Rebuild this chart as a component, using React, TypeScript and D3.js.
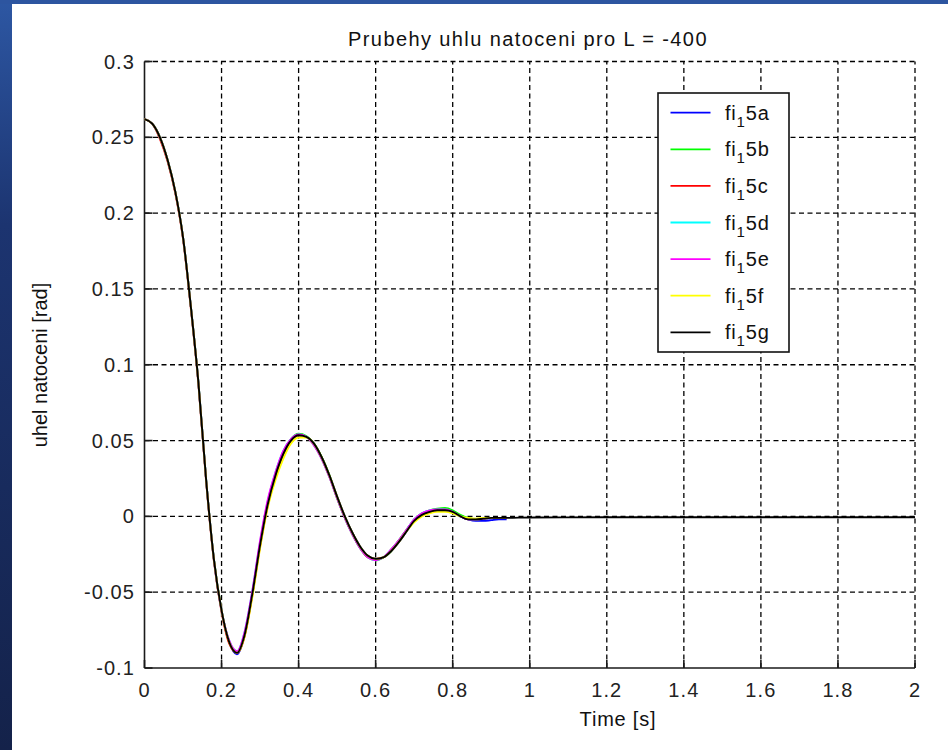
import React from "react";
import * as d3 from "d3";

const TITLE = "Prubehy uhlu natoceni pro L = -400";
const X_LABEL = "Time [s]";
const Y_LABEL = "uhel natoceni [rad]";
const X_TICKS = [0, 0.2, 0.4, 0.6, 0.8, 1, 1.2, 1.4, 1.6, 1.8, 2];
const Y_TICKS = [-0.1, -0.05, 0, 0.05, 0.1, 0.15, 0.2, 0.25, 0.3];
const X_TICK_LABELS = ["0", "0.2", "0.4", "0.6", "0.8", "1", "1.2", "1.4", "1.6", "1.8", "2"];
const Y_TICK_LABELS = ["-0.1", "-0.05", "0", "0.05", "0.1", "0.15", "0.2", "0.25", "0.3"];

const SERIES_NAMES = ["5a", "5b", "5c", "5d", "5e", "5f", "5g"];
const SERIES_COLORS = ["#0000ff", "#00ff00", "#ff0000", "#00ffff", "#ff00ff", "#ffff00", "#000000"];

const T = [0, 0.02, 0.04, 0.06, 0.08, 0.1, 0.12, 0.14, 0.16, 0.18, 0.2, 0.22, 0.24, 0.26, 0.28, 0.3, 0.32, 0.34, 0.36, 0.38, 0.4, 0.42, 0.44, 0.46, 0.48, 0.5, 0.52, 0.54, 0.56, 0.58, 0.6, 0.62, 0.64, 0.66, 0.68, 0.7, 0.72, 0.74, 0.76, 0.78, 0.8, 0.82, 0.84, 0.86, 0.88, 0.9, 0.92, 0.94];
const T_G = [0, 0.02, 0.04, 0.06, 0.08, 0.1, 0.12, 0.14, 0.16, 0.18, 0.2, 0.22, 0.24, 0.26, 0.28, 0.3, 0.32, 0.34, 0.36, 0.38, 0.4, 0.42, 0.44, 0.46, 0.48, 0.5, 0.52, 0.54, 0.56, 0.58, 0.6, 0.62, 0.64, 0.66, 0.68, 0.7, 0.72, 0.74, 0.76, 0.78, 0.8, 0.82, 0.84, 0.86, 0.88, 0.9, 0.92, 0.94, 1.0, 1.2, 1.4, 1.6, 1.8, 2.0];

const FI_5A = [0.262, 0.259, 0.25, 0.235, 0.214, 0.184, 0.139, 0.088, 0.024, -0.028, -0.062, -0.083, -0.091, -0.078, -0.051, -0.019, 0.008, 0.027, 0.041, 0.05, 0.0535, 0.0525, 0.048, 0.039, 0.027, 0.013, 0.0, -0.011, -0.02, -0.026, -0.028, -0.027, -0.023, -0.017, -0.01, -0.003, 0.001, 0.003, 0.004, 0.0045, 0.003, 0.0, -0.002, -0.003, -0.003, -0.0025, -0.002, -0.002];
const FI_5B = [0.262, 0.259, 0.25, 0.235, 0.214, 0.184, 0.139, 0.088, 0.024, -0.028, -0.062, -0.083, -0.0895, -0.078, -0.051, -0.018, 0.009, 0.028, 0.042, 0.051, 0.0545, 0.053, 0.048, 0.039, 0.027, 0.012, -0.001, -0.012, -0.021, -0.027, -0.029, -0.027, -0.023, -0.016, -0.009, -0.002, 0.002, 0.004, 0.005, 0.0055, 0.004, 0.001, -0.001, -0.002, -0.0015, -0.001, -0.001, -0.001];
const FI_5C = [0.262, 0.259, 0.249, 0.234, 0.213, 0.183, 0.138, 0.087, 0.023, -0.029, -0.063, -0.084, -0.09, -0.079, -0.052, -0.02, 0.007, 0.026, 0.041, 0.05, 0.0535, 0.0525, 0.047, 0.038, 0.026, 0.012, -0.001, -0.012, -0.021, -0.027, -0.028, -0.027, -0.022, -0.016, -0.009, -0.003, 0.001, 0.003, 0.004, 0.004, 0.003, 0.0, -0.002, -0.002, -0.0015, -0.001, -0.001, -0.001];
const FI_5D = [0.262, 0.259, 0.25, 0.235, 0.214, 0.184, 0.139, 0.088, 0.024, -0.028, -0.062, -0.082, -0.089, -0.076, -0.049, -0.017, 0.01, 0.029, 0.043, 0.051, 0.054, 0.0525, 0.047, 0.038, 0.026, 0.012, -0.001, -0.012, -0.021, -0.027, -0.029, -0.027, -0.022, -0.016, -0.009, -0.002, 0.002, 0.004, 0.0045, 0.0045, 0.003, 0.0, -0.002, -0.002, -0.0015, -0.001, -0.001, -0.001];
const FI_5E = [0.262, 0.259, 0.25, 0.235, 0.214, 0.184, 0.139, 0.088, 0.024, -0.028, -0.062, -0.082, -0.089, -0.076, -0.049, -0.016, 0.011, 0.029, 0.043, 0.051, 0.054, 0.0525, 0.047, 0.038, 0.026, 0.012, -0.001, -0.012, -0.021, -0.027, -0.029, -0.027, -0.022, -0.016, -0.009, -0.002, 0.002, 0.004, 0.0045, 0.0045, 0.003, 0.0, -0.002, -0.002, -0.0015, -0.001, -0.001, -0.001];
const FI_5F = [0.262, 0.259, 0.25, 0.235, 0.214, 0.184, 0.139, 0.088, 0.024, -0.028, -0.062, -0.083, -0.09, -0.079, -0.053, -0.021, 0.006, 0.024, 0.038, 0.048, 0.052, 0.052, 0.048, 0.039, 0.027, 0.013, 0.0, -0.011, -0.02, -0.026, -0.028, -0.027, -0.023, -0.017, -0.01, -0.004, 0.0, 0.002, 0.003, 0.003, 0.002, 0.0, -0.001, -0.0015, -0.001, -0.001, -0.001, -0.001];
const FI_5G = [0.262, 0.259, 0.25, 0.235, 0.214, 0.184, 0.139, 0.088, 0.024, -0.028, -0.062, -0.083, -0.09, -0.078, -0.051, -0.019, 0.008, 0.027, 0.041, 0.05, 0.0535, 0.0525, 0.048, 0.039, 0.027, 0.013, 0.0, -0.011, -0.02, -0.026, -0.028, -0.027, -0.023, -0.017, -0.01, -0.003, 0.001, 0.003, 0.004, 0.004, 0.003, 0.0, -0.002, -0.002, -0.0015, -0.001, -0.001, -0.001, -0.0007, -0.0006, -0.0006, -0.0006, -0.0006, -0.0006];

const SERIES_T = [T, T, T, T, T, T, T_G];
const SERIES_V = [FI_5A, FI_5B, FI_5C, FI_5D, FI_5E, FI_5F, FI_5G];

const W = 948;
const H = 750;
const FONT = "'Liberation Sans', Arial, Helvetica, sans-serif";

export default function App() {
  const left = 144.5, right = 915, top = 61.5, bottom = 668;
  const x = d3.scaleLinear().domain([0, 2]).range([left, right]);
  const y = d3.scaleLinear().domain([-0.1, 0.3]).range([bottom, top]);
  const line = d3
    .line<[number, number]>()
    .x((d) => x(d[0]))
    .y((d) => y(d[1]))
    .curve(d3.curveMonotoneX);

  const legX0 = 658, legX1 = 789, legY0 = 93, legY1 = 352;
  const rowY0 = 112.7, rowStep = 36.6;

  return (
    <svg
      width={W}
      height={H}
      style={{ position: "absolute", left: 0, top: 0, display: "block" }}
      fontFamily={FONT}
    >
      <defs>
        <linearGradient id="bg" x1="0" y1="0" x2="0" y2="1">
          <stop offset="0" stopColor="#2d57a3" />
          <stop offset="0.3" stopColor="#1c3470" />
          <stop offset="1" stopColor="#14224a" />
        </linearGradient>
      </defs>
      <rect x={0} y={0} width={W} height={H} fill="url(#bg)" />
      <rect x={0} y={0} width={W} height={4} fill="#2d55a0" />
      <rect x={12} y={4} width={W - 12} height={H - 4} fill="#ffffff" />

      {/* grid */}
      <g stroke="#000" strokeWidth={1.3} strokeDasharray="5,3.5">
        {X_TICKS.filter((t) => t !== 0).map((t) => (
          <line key={"gx" + t} x1={x(t)} x2={x(t)} y1={bottom} y2={top} />
        ))}
        {Y_TICKS.filter((t) => t !== -0.1).map((t) => (
          <line key={"gy" + t} x1={left} x2={right} y1={y(t)} y2={y(t)} />
        ))}
      </g>

      {/* axes */}
      <g stroke="#1a1a1a" strokeWidth={1.6} fill="none">
        <line x1={left} x2={left} y1={top} y2={bottom} />
        <line x1={left} x2={right} y1={bottom} y2={bottom} />
        {X_TICKS.map((t) => (
          <line key={"tx" + t} x1={x(t)} x2={x(t)} y1={bottom} y2={bottom - 8} />
        ))}
        {Y_TICKS.map((t) => (
          <line key={"ty" + t} x1={left} x2={left + 8} y1={y(t)} y2={y(t)} />
        ))}
      </g>

      {/* tick labels */}
      <g fill="#222" fontSize={20} letterSpacing={1.1}>
        {X_TICKS.map((t, i) => (
          <text key={"lx" + t} x={x(t)} y={697} textAnchor="middle">
            {X_TICK_LABELS[i]}
          </text>
        ))}
        {Y_TICKS.map((t, i) => (
          <text key={"ly" + t} x={135} y={y(t) + 7} textAnchor="end">
            {Y_TICK_LABELS[i]}
          </text>
        ))}
      </g>

      {/* series */}
      <g fill="none" strokeWidth={1.9} strokeLinejoin="round">
        {SERIES_V.map((vals, i) => {
          const pts = vals.map((v, j) => [SERIES_T[i][j], v] as [number, number]);
          return <path key={"s" + i} d={line(pts) || ""} stroke={SERIES_COLORS[i]} />;
        })}
      </g>

      {/* title and labels */}
      <text x={528} y={46} textAnchor="middle" fontSize={20} letterSpacing={1.4} fill="#111">
        {TITLE}
      </text>
      <text x={618} y={726} textAnchor="middle" fontSize={20} letterSpacing={0.8} fill="#111">
        {X_LABEL}
      </text>
      <text
        transform={`translate(47,365) rotate(-90)`}
        textAnchor="middle"
        fontSize={20}
        letterSpacing={0}
        fill="#111"
      >
        {Y_LABEL}
      </text>

      {/* legend */}
      <rect x={legX0} y={legY0} width={legX1 - legX0} height={legY1 - legY0} fill="#fff" stroke="#111" strokeWidth={1.6} />
      {SERIES_NAMES.map((name, i) => {
        const ry = rowY0 + i * rowStep;
        return (
          <g key={"lg" + i}>
            <line x1={670.5} x2={710.5} y1={ry} y2={ry} stroke={SERIES_COLORS[i]} strokeWidth={1.8} />
            <text x={725} y={ry + 7} fontSize={20} fill="#111" letterSpacing={0.8}>
              fi
              <tspan fontSize={15} dy={7}>1</tspan>
              <tspan fontSize={20} dy={-7}>{name}</tspan>
            </text>
          </g>
        );
      })}
    </svg>
  );
}
